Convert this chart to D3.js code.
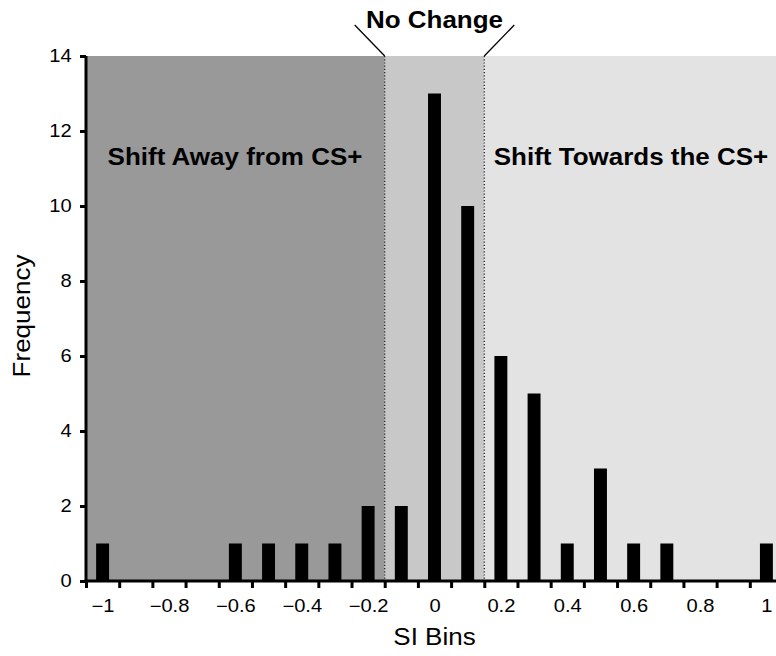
<!DOCTYPE html>
<html><head><meta charset="utf-8">
<script src="https://cdn.jsdelivr.net/npm/d3@7"></script>
<style>body{margin:0;background:#fff}svg{display:block}text{font-family:"Liberation Sans",Arial,Helvetica,sans-serif}</style>
</head><body><svg id="c" width="776" height="656"></svg>
<script>
const binCenters = [-1,-0.9,-0.8,-0.7,-0.6,-0.5,-0.4,-0.3,-0.2,-0.1,0,0.1,0.2,0.3,0.4,0.5,0.6,0.7,0.8,0.9,1];
const frequency  = [1,0,0,0,1,1,1,1,2,2,13,10,6,5,1,3,1,1,0,0,1];
const xTickLabels = ["\u22121","\u22120.8","\u22120.6","\u22120.4","\u22120.2","0","0.2","0.4","0.6","0.8","1"];
const xTickValues = [-1,-0.8,-0.6,-0.4,-0.2,0,0.2,0.4,0.6,0.8,1];
const binEdges = [-1.05,-0.95,-0.85,-0.75,-0.65,-0.55,-0.45,-0.35,-0.25,-0.15,-0.05,0.05,0.15,0.25,0.35,0.45,0.55,0.65,0.75,0.85,0.95,1.05];
const yTickValues = [0,2,4,6,8,10,12,14];
const regions = [
  {from:-1.05, to:-0.15, label:"Shift Away from CS+", fill:"#999999"},
  {from:-0.15, to:0.15, label:"", fill:"#c8c8c8"},
  {from:0.15, to:1.05, label:"Shift Towards the CS+", fill:"#e3e3e3"}
];
const boundaries = [-0.15, 0.15];

const SX = 1.13;
const svg = d3.select("#c");
const x = d3.scaleLinear().domain([-1.05,1.05]).range([86,783]);
const y = d3.scaleLinear().domain([0,14]).range([581,56]);
const bw = (x(0.1)-x(0))*0.39;

svg.selectAll("rect.reg").data(regions).join("rect")
  .attr("x", d=>x(d.from)).attr("width", d=>x(d.to)-x(d.from))
  .attr("y", y(14)).attr("height", y(0)-y(14)).attr("fill", d=>d.fill);

svg.selectAll("line.b").data(boundaries).join("line")
  .attr("x1", d=>x(d)).attr("x2", d=>x(d)).attr("y1", y(14)).attr("y2", y(0))
  .attr("stroke","#1a1a1a").attr("stroke-width",1.2).attr("stroke-dasharray","1.2,2");

svg.selectAll("text.reg").data(regions.filter(r=>r.label)).join("text")
  .attr("transform", (d,i)=>`translate(${i===0 ? 235 : 631},165) scale(${SX},1)`)
  .attr("text-anchor","middle").attr("font-weight","bold").attr("font-size",23)
  .text(d=>d.label);

svg.selectAll("rect.bar").data(binCenters).join("rect")
  .attr("x", (d)=>x(d)-bw/2).attr("width", bw)
  .attr("y", (d,i)=>y(frequency[i])).attr("height",(d,i)=>y(0)-y(frequency[i]))
  .attr("fill","#000");

// No Change annotation
svg.append("text").attr("transform",`translate(${x(0)},28) scale(${SX},1)`).attr("text-anchor","middle")
  .attr("font-weight","bold").attr("font-size",23).text("No Change");
svg.append("line").attr("x1", x(-0.15)-30).attr("y1",25).attr("x2",x(-0.15)).attr("y2",y(14))
  .attr("stroke","#000").attr("stroke-width",1.3);
svg.append("line").attr("x1", x(0.15)+30).attr("y1",25).attr("x2",x(0.15)).attr("y2",y(14))
  .attr("stroke","#000").attr("stroke-width",1.3);

// Axes
const gy = svg.append("g").attr("transform",`translate(${x(-1.05)},0)`)
  .call(d3.axisLeft(y).tickValues(yTickValues).tickSize(6).tickPadding(6.5).tickFormat(d3.format("d")));
const gx = svg.append("g").attr("transform",`translate(0,${y(0)})`)
  .call(d3.axisBottom(x).tickValues(binEdges).tickSize(7).tickFormat(""));
const gxl = svg.append("g").attr("transform",`translate(0,${y(0)})`)
  .call(d3.axisBottom(x).tickValues(xTickValues).tickSize(0).tickPadding(19).tickFormat((d,i)=>xTickLabels[i]));
gxl.select(".domain").remove();
[gy,gx].forEach(g=>{
  g.select(".domain").attr("stroke-width",3).attr("stroke","#000");
  g.selectAll(".tick line").attr("stroke-width",3).attr("stroke","#000");
});
gy.select(".domain").attr("d",`M-0,${y(14)}V${y(0)+1.5}`);
gx.select(".domain").attr("d",`M${x(-1.05)-1.5},0H${x(1.05)}`);
svg.selectAll(".tick text").attr("font-size",17.5).attr("fill","#000")
  .attr("transform","scale(1.15,1)")
  .style("font-family",'"Liberation Sans",Arial,Helvetica,sans-serif');

svg.append("text").attr("transform",`translate(30,316) rotate(-90) scale(${SX},1)`).attr("text-anchor","middle")
  .attr("font-size",23).text("Frequency");
svg.append("text").attr("transform",`translate(${x(0)},645) scale(${SX},1)`).attr("text-anchor","middle")
  .attr("font-size",23).text("SI Bins");
</script></body></html>
